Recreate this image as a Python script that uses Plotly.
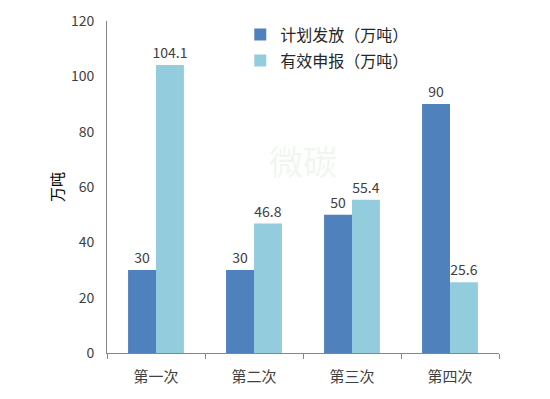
import plotly.graph_objects as go

categories = ["第一次", "第二次", "第三次", "第四次"]
planned = [30, 30, 50, 90]
declared = [104.1, 46.8, 55.4, 25.6]
series_names = ["计划发放（万吨）", "有效申报（万吨）"]
y_ticks = [0, 20, 40, 60, 80, 100, 120]

FONT = "Noto Sans CJK SC"

fig = go.Figure()
fig.add_trace(go.Bar(
    x=categories, y=planned, name=series_names[0], legendgroup="a",
    marker=dict(color="#4F81BD", line=dict(width=0)),
    text=[f"{v:g}" for v in planned], textposition="outside",
    textfont=dict(size=14, color="#404040", family=FONT),
    constraintext="none", cliponaxis=False,
))
fig.add_trace(go.Bar(
    x=categories, y=declared, name=series_names[1], legendgroup="b",
    marker=dict(color="#93CDDD", line=dict(width=0)),
    text=[f"{v:g}" for v in declared], textposition="outside",
    textfont=dict(size=14, color="#404040", family=FONT),
    constraintext="none", cliponaxis=False,
))

fig.add_annotation(x=0.5, y=0.58, xref="paper", yref="paper", text="微碳",
                   showarrow=False, font=dict(size=34, color="rgba(120,190,120,0.12)", family=FONT))

fig.update_layout(
    width=550, height=399,
    margin=dict(l=99, r=59, t=13, b=54, autoexpand=False),
    paper_bgcolor="white", plot_bgcolor="white",
    barmode="group", bargap=0.43, bargroupgap=0,
    font=dict(family=FONT, size=14, color="#404040"),
    showlegend=True,
    legend=dict(x=0.34, y=1.01, xanchor="left", yanchor="top",
                font=dict(size=16, color="#262626", family=FONT),
                bgcolor="rgba(0,0,0,0)", tracegroupgap=2),
    xaxis=dict(showline=True, linecolor="#868686", linewidth=1, automargin=False,
               ticks="outside", tickson="boundaries", ticklen=5, tickcolor="#868686",
               ticklabelstandoff=10,
               tickfont=dict(size=15, color="#404040", family=FONT), showgrid=False),
    yaxis=dict(range=[0, 120], tickvals=y_ticks, showline=True, linecolor="#868686",
               linewidth=1, showgrid=False, zeroline=False, ticks="", automargin=False,
               ticklabelstandoff=9,
               tickfont=dict(size=14, color="#404040", family=FONT),
               title=dict(text="万吨", font=dict(size=15, color="#000000", family=FONT), standoff=3)),
)

fig.write_html("out.html")
